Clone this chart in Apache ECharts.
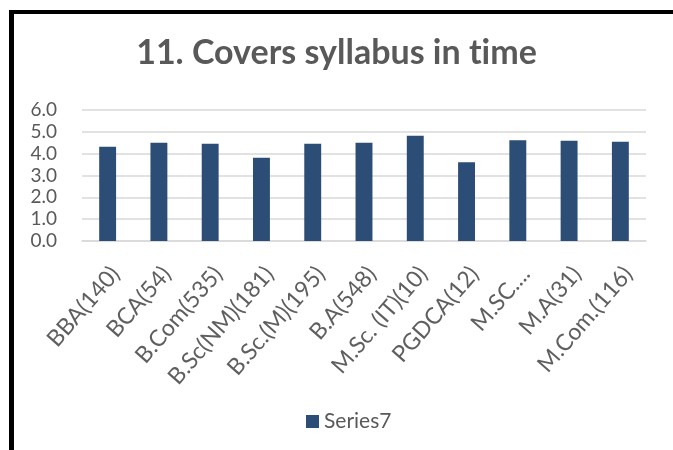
<!DOCTYPE html>
<html>
<head>
<meta charset="utf-8">
<script src="https://cdn.jsdelivr.net/npm/echarts@6/dist/echarts.min.js"></script>
<style>
  html, body { margin: 0; padding: 0; background: #ffffff; }
  #chart { width: 673px; height: 450px; }
</style>
</head>
<body>
<div id="chart"></div>
<script>
// Programme names with respondent counts
const categories = ['BBA(140)', 'BCA(54)', 'B.Com(535)', 'B.Sc(NM)(181)', 'B.Sc.(M)(195)',
  'B.A(548)', 'M.Sc. (IT)(10)', 'PGDCA(12)', 'M.SC....', 'M.A(31)', 'M.Com.(116)'];
// Mean rating for "Covers syllabus in time"
const series7 = [4.32, 4.50, 4.45, 3.81, 4.45, 4.50, 4.82, 3.61, 4.62, 4.59, 4.55];
const yTicks = { min: 0, max: 6, interval: 1 };

const FONT = 'Lato';
const chart = echarts.init(document.getElementById('chart'), null, { renderer: 'canvas' });
chart.setOption({
  animation: false,
  backgroundColor: '#ffffff',
  title: {
    // zero-width non-joiner keeps "t" and "i" as separate glyphs
    text: '11. Covers syllabus in t\u200Cime',
    left: 'center',
    top: 31,
    textStyle: { fontFamily: FONT, fontWeight: 'bold', fontSize: 34, color: '#595959' }
  },
  graphic: [
    { type: 'rect', shape: { x: 9, y: 10, width: 5, height: 440 }, style: { fill: '#000000' } },
    { type: 'rect', shape: { x: 9, y: 10, width: 664, height: 4 }, style: { fill: '#000000' } }
  ],
  legend: {
    data: ['Series7'],
    left: 301,
    top: 406,
    icon: 'rect',
    itemWidth: 13,
    itemHeight: 13,
    itemGap: 5,
    textStyle: { fontFamily: FONT, fontSize: 21, color: '#595959' }
  },
  grid: { left: 82, right: 27, top: 110, bottom: 209, containLabel: false },
  xAxis: {
    type: 'category',
    data: categories,
    axisLine: { show: true, lineStyle: { color: '#d9d9d9', width: 1.5 } },
    axisTick: { show: false },
    axisLabel: {
      rotate: 49,
      interval: 0,
      margin: 38,
      padding: [0, -12, 0, 0],
      fontFamily: FONT,
      fontSize: 23,
      color: '#5f5f5f'
    }
  },
  yAxis: {
    type: 'value',
    min: yTicks.min,
    max: yTicks.max,
    interval: yTicks.interval,
    axisLine: { show: false },
    axisTick: { show: false },
    splitLine: { lineStyle: { color: '#d9d9d9', width: 1.5 } },
    axisLabel: {
      margin: 25,
      fontFamily: FONT,
      fontSize: 19,
      color: '#595959',
      formatter: v => v.toFixed(1)
    }
  },
  series: [{
    name: 'Series7',
    type: 'bar',
    data: series7,
    barWidth: '33%',
    itemStyle: { color: '#2C4D75' }
  }]
});
</script>
</body>
</html>
